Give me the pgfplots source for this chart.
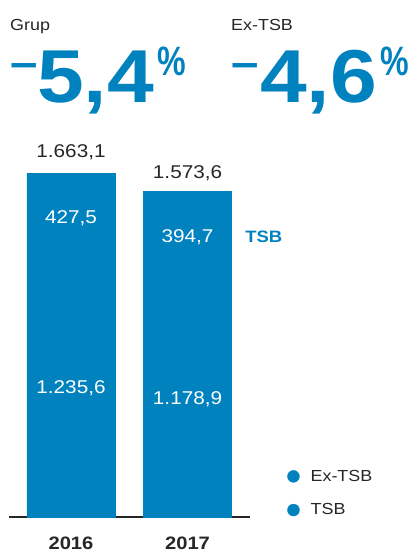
\documentclass[border=0pt]{standalone}
\usepackage{pgfplots}
\pgfplotsset{compat=1.18}
\usepackage{fontspec}
\usepackage{graphicx}
\setmainfont{Liberation Sans}[FakeStretch=1.12]
\definecolor{sblue}{RGB}{0,130,190}
\definecolor{dtext}{RGB}{38,38,38}
\begin{document}
\begin{tikzpicture}[x=1pt,y=1pt]
\useasboundingbox (0,0) rectangle (414,552);
% header
\node[anchor=base west, inner sep=0, text=dtext, font=\fontsize{16}{18}\selectfont] at (10,521.5) {Grup};
\node[anchor=base west, inner sep=0, text=dtext, font=\fontsize{16}{18}\selectfont] at (231,521.5) {Ex-TSB};
\node[anchor=base west, inner sep=0, text=sblue, font=\bfseries\fontsize{44}{44}\selectfont] at (10,474.5) {–};
\node[anchor=base west, inner sep=0, text=sblue, font=\bfseries\fontsize{75}{75}\selectfont] at (37,449.5) {5,4};
\node[anchor=base west, inner sep=0, text=sblue, font=\bfseries\fontsize{41}{41}\selectfont] at (157,476) {\scalebox{0.7}[1]{\%}};
\node[anchor=base west, inner sep=0, text=sblue, font=\bfseries\fontsize{44}{44}\selectfont] at (231,474.5) {–};
\node[anchor=base west, inner sep=0, text=sblue, font=\bfseries\fontsize{75}{75}\selectfont] at (260,449.5) {4,6};
\node[anchor=base west, inner sep=0, text=sblue, font=\bfseries\fontsize{41}{41}\selectfont] at (380,476) {\scalebox{0.7}[1]{\%}};
\begin{axis}[
  at={(9pt,35pt)}, anchor=south west,
  scale only axis, width=241pt, height=387pt,
  xmin=-0.532, xmax=1.536, ymin=0, ymax=1871,
  ybar stacked, bar width=88pt,
  axis y line=none, axis x line*=bottom,
  axis line style={-}, x axis line style={-, line width=2.2pt, draw=dtext},
  xtick={0,1}, xticklabels={2016,2017},
  major tick length=0pt,
  xticklabel style={anchor=base, yshift=-32pt, font=\bfseries\fontsize{18}{20}\selectfont, text=dtext},
  clip=false,
  legend style={at={(axis description cs:1.154,0.127)}, anchor=north west, draw=none, fill=none, inner sep=0pt,
    font=\fontsize{16}{18}\selectfont, text=dtext, row sep=17pt,
    /tikz/every odd column/.append style={column sep=9pt}},
  legend cell align=left,
  after end axis/.code={
    \node[anchor=base, text=dtext, inner sep=0, font=\fontsize{18.5}{20}\selectfont] at (axis cs:0,1739) {1.663,1};
    \node[anchor=base, text=dtext, inner sep=0, font=\fontsize{18.5}{20}\selectfont] at (axis cs:1,1638) {1.573,6};
    \node[anchor=base, text=white, inner sep=0, font=\fontsize{18.5}{20}\selectfont] at (axis cs:0,1420) {427,5};
    \node[anchor=base, text=white, inner sep=0, font=\fontsize{18.5}{20}\selectfont] at (axis cs:1,1326) {394,7};
    \node[anchor=base, text=white, inner sep=0, font=\fontsize{18.5}{20}\selectfont] at (axis cs:0,595) {1.235,6};
    \node[anchor=base, text=white, inner sep=0, font=\fontsize{18.5}{20}\selectfont] at (axis cs:1,546) {1.178,9};
    \node[anchor=base west, text=sblue, inner sep=0, font=\bfseries\fontsize{16.5}{18}\selectfont] at (axis cs:1.494,1326) {TSB};
  },
]
\addplot[fill=sblue, draw=sblue, line width=0.3pt, legend image code/.code={\fill[sblue] (6pt,0pt) circle (6pt);}] coordinates {(0,1235.6) (1,1178.9)};
\addplot[fill=sblue, draw=sblue, line width=0.3pt, legend image code/.code={\fill[sblue] (6pt,0pt) circle (6pt);}] coordinates {(0,427.5) (1,394.7)};
\legend{Ex-TSB, TSB}
\end{axis}
\end{tikzpicture}
\end{document}
